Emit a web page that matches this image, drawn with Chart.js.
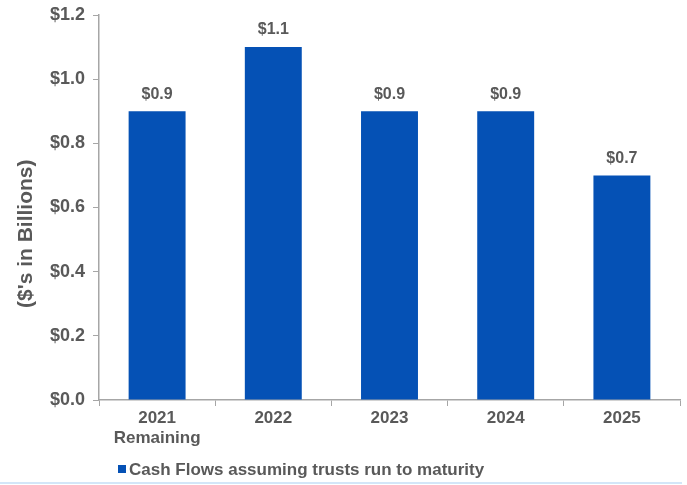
<!DOCTYPE html>
<html>
<head>
<meta charset="utf-8">
<script src="https://cdn.jsdelivr.net/npm/chart.js@4"></script>
<style>
  html, body { margin: 0; padding: 0; background: #fff; }
  #wrap { position: relative; width: 687px; height: 485px; }
  #edge { position: absolute; left: 0; top: 482px; width: 682px; height: 2px; background: #d3e6f8; }
</style>
</head>
<body>
<div id="wrap">
  <canvas id="c" width="687" height="485"></canvas>
  <div id="edge"></div>
</div>
<script>
// values
const categories = [["2021", "Remaining"], "2022", "2023", "2024", "2025"]
const cashFlows = [0.9, 1.1, 0.9, 0.9, 0.7]
const seriesLabel = "Cash Flows assuming trusts run to maturity"
const yTicks = [0, 0.2, 0.4, 0.6, 0.8, 1.0, 1.2]

const textColor = "#595959"
const axisColor = "#a6a6a6"
const barColor = "#0551b5"
const font = "'Liberation Sans', Arial, sans-serif"

// value labels above each bar
const valueLabels = {
  id: "valueLabels",
  afterDatasetsDraw(chart) {
    const ctx = chart.ctx
    const meta = chart.getDatasetMeta(0)
    ctx.save()
    ctx.font = "bold 16px " + font
    ctx.fillStyle = textColor
    ctx.textAlign = "center"
    ctx.textBaseline = "bottom"
    meta.data.forEach((bar, i) => {
      ctx.fillText("$" + chart.data.datasets[0].data[i].toFixed(1), bar.x, bar.y - 9)
    })
    ctx.restore()
  }
}

// legend drawn at the bottom left, like the original
const bottomLegend = {
  id: "bottomLegend",
  afterDraw(chart) {
    const ctx = chart.ctx
    const ds = chart.data.datasets[0]
    ctx.save()
    ctx.fillStyle = ds.backgroundColor
    ctx.fillRect(118, 465, 8, 8)
    ctx.font = "bold 17px " + font
    ctx.fillStyle = textColor
    ctx.textBaseline = "middle"
    ctx.fillText(ds.label, 129, 470)
    ctx.restore()
  }
}

new Chart(document.getElementById("c"), {
  type: "bar",
  data: {
    labels: categories,
    datasets: [{
      label: seriesLabel,
      data: cashFlows,
      backgroundColor: barColor,
      barPercentage: 0.49,
      categoryPercentage: 1.0,
    }]
  },
  options: {
    responsive: false,
    animation: false,
    layout: { padding: { top: 15, right: 7, left: 0, bottom: 0 } },
    plugins: {
      legend: { display: false },
      tooltip: { enabled: false },
    },
    scales: {
      x: {
        grid: { display: true, drawOnChartArea: false, offset: true, tickLength: 6, color: axisColor },
        border: { color: axisColor, width: 1.5 },
        ticks: { color: textColor, font: { family: font, size: 17, weight: "bold" }, padding: 2, maxRotation: 0 },
        afterFit(scale) { scale.height = 85 },
      },
      y: {
        min: 0,
        max: 1.2,
        afterBuildTicks(scale) { scale.ticks = yTicks.map(v => ({ value: v })) },
        grid: { display: true, drawOnChartArea: false, tickLength: 6, color: axisColor },
        border: { color: axisColor, width: 1.5 },
        ticks: {
          color: textColor,
          font: { family: font, size: 18, weight: "bold" },
          padding: 8,
          callback: v => "$" + Number(v).toFixed(1),
        },
        title: {
          display: true,
          text: "($'s in Billions)         ",
          color: textColor,
          font: { family: font, size: 21, weight: "bold" },
          padding: { top: 14, bottom: 0 },
        },
        afterFit(scale) {
          scale.width = 99
          scale.paddingTop = 0
          scale.paddingBottom = 0
        },
      }
    }
  },
  plugins: [valueLabels, bottomLegend]
})
</script>
</body>
</html>
